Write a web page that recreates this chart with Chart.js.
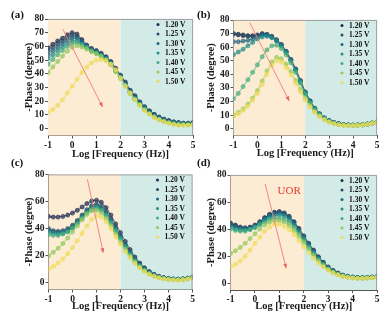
<!DOCTYPE html>
<html><head><meta charset="utf-8">
<script src="https://cdn.jsdelivr.net/npm/chart.js@4.4.1/dist/chart.umd.min.js"></script>
<style>
html,body{margin:0;padding:0;background:#fff;}
#wrap{position:relative;width:389px;height:321px;overflow:hidden;background:#fff;}
canvas{position:absolute;left:0;top:0;}
.lbl{position:absolute;font:bold 11px "Liberation Serif","Times New Roman",serif;color:#111;line-height:11px;}
</style></head><body>
<div id="wrap">
<canvas id="ca" width="389" height="321"></canvas>
<canvas id="cb" width="389" height="321"></canvas>
<canvas id="cc" width="389" height="321"></canvas>
<canvas id="cd" width="389" height="321"></canvas>
<div class="lbl" style="left:11px;top:9px">(a)</div>
<div class="lbl" style="left:197px;top:9px">(b)</div>
<div class="lbl" style="left:11px;top:157px">(c)</div>
<div class="lbl" style="left:197px;top:157px">(d)</div>
</div>
<script>
// ---------- data ----------
const logFreq = [-1,-0.8,-0.6,-0.4,-0.2,0,0.2,0.4,0.6,0.8,1,1.2,1.4,1.6,1.8,2,2.2,2.4,2.6,2.8,3,3.2,3.4,3.6,3.8,4,4.2,4.4,4.6,4.8,5];
const voltages = ['1.20 V','1.25 V','1.30 V','1.35 V','1.40 V','1.45 V','1.50 V'];
const xTicks = [-1,0,1,2,3,4,5];
const yTicks = [0,10,20,30,40,50,60,70,80];
const shadeEdges = [-1, 2, 5];

// (a)
const phaseA120 = [59,61.5,64,66,68.5,70,69,65,61,58.5,57,55,52.5,49,44,39,34,28,24,19.5,16,13,10.5,8.5,7,6,5,4.5,4,4,4.5];
const phaseA125 = [57,59.5,62,64,66.5,68,67.5,64,60.5,58,56.5,54.5,52,48.5,43.5,38.5,33,27.5,23,19,15.5,12.5,10,8,6.5,5.5,4.7,4.2,3.8,3.8,4.3];
const phaseA130 = [54,57,59.5,62,64.5,66,66,63,60,57.5,56,54,51.5,48,43,38,32.5,27,22.5,18.5,15,12,9.5,7.6,6.2,5.2,4.5,4,3.6,3.6,4];
const phaseA135 = [51,54,57,59.5,62,64,64,62,59.5,57,55.5,53.5,51,47.5,42.5,37.5,32,26.5,22,18,14.5,11.5,9,7.2,5.8,4.8,4.1,3.6,3.3,3.3,3.7];
const phaseA140 = [47,50.5,54,57,60,62,62.5,61,59,56.5,55,53,50.5,47,42,37,31.5,26,21.5,17.5,14,11,8.6,6.8,5.4,4.4,3.7,3.2,3,3,3.4];
const phaseA145 = [41,45,49,53,56.5,59.5,60.5,59.5,58,56,54.5,52.5,50,46.5,41.5,36.5,31,25.5,21,17,13.5,10.7,8.3,6.5,5.1,4.1,3.4,2.9,2.7,2.7,3.1];
const phaseA150 = [12,14,17,21,26,31,36,41,45,48,50,50.5,49.5,47,43,37,31,26,21,17,13,10.5,8,6.5,5,4,3,2.5,2.5,2.5,3];
// (b)
const phaseB120 = [70,69.5,69,68.5,68.5,69,70,69.5,68,65.5,62,57,51,44,35.5,27,20.5,15,11,8,6,4.6,3.7,3.1,2.8,2.7,2.8,3,3.5,4.2,5];
const phaseB125 = [69.5,69,68.5,68,68,68.5,69.5,69,67.5,65,61.5,56.5,50.5,43.5,35,26.5,20,14.7,10.7,7.8,5.8,4.5,3.6,3,2.7,2.6,2.7,2.9,3.4,4.1,4.9];
const phaseB130 = [64,64,64.5,65,66,67.5,69,69,67.5,65,61.5,56.5,50.5,43.5,35,26.5,20,14.7,10.7,7.8,5.8,4.5,3.6,3,2.7,2.6,2.7,2.9,3.4,4.1,4.9];
const phaseB135 = [54.5,56.5,58.5,61,63.5,66,67.5,68,67,64.5,61,56,50,43,34.5,26,19.5,14.3,10.4,7.6,5.6,4.3,3.4,2.9,2.6,2.5,2.6,2.8,3.3,4,4.8];
const phaseB140 = [22,26,31,36,41.5,47,53,58,61,61.5,59,54.5,48.5,41.5,33.5,25.5,19,14,10.2,7.4,5.4,4,3.2,2.8,2.6,2.6,2.7,2.9,3.4,4.1,4.9];
const phaseB145 = [10,12,14.5,18,22.5,28,35,42.5,49,52.5,51.5,47.5,42,35.5,29,22.5,17,12.7,9.3,6.9,5,3.8,3,2.6,2.4,2.4,2.5,2.8,3.3,4,4.8];
const phaseB150 = [9,11,13.5,16.5,21,26,32.5,40,46.5,50,49,45,39.5,33.5,27,21,16,12,8.8,6.5,4.8,3.7,2.9,2.5,2.3,2.3,2.4,2.7,3.2,3.9,4.7];
// (c)
const phaseC120 = [49,48.5,48.5,49,50,51.5,53.5,56,58.5,60.5,61,59.5,55.5,50,43.5,37,30.5,24.5,19,14.5,11,8.3,6.3,4.8,3.8,3.2,2.8,2.7,2.9,3.4,4.2];
const phaseC125 = [40,38.5,38,38.5,40,42.5,46,50,54,57,58,56.5,52.5,47,41,34.5,28,22.5,17.5,13.5,10.2,7.7,5.8,4.5,3.6,3,2.7,2.6,2.8,3.3,4.1];
const phaseC130 = [39,37.5,37,37.5,39,41.5,45,49,53,56,57,55.5,51.5,46,40,33.5,27.5,22,17,13,9.9,7.5,5.6,4.3,3.5,2.9,2.6,2.5,2.7,3.2,4];
const phaseC135 = [37.5,36.5,36,36.5,38,40.5,44,48,52,55,56,54.5,50.5,45,39,33,27,21.5,16.5,12.7,9.6,7.2,5.4,4.2,3.4,2.8,2.5,2.4,2.6,3.1,3.9];
const phaseC140 = [35.5,35,35,36,37.5,40,43.5,47.5,51.5,54,55,53.5,49.5,44,38,32,26,20.5,16,12.2,9.2,6.9,5.2,4,3.2,2.7,2.4,2.3,2.5,3,3.8];
const phaseC145 = [20,22.5,25.5,29,33,37.5,42,46.5,50.5,53,53.5,51.5,47.5,42,36,30,24.5,19.5,15,11.5,8.7,6.5,4.9,3.8,3,2.5,2.2,2.1,2.3,2.8,3.6];
const phaseC150 = [10,12,14.5,17.5,21.5,26,31,36.5,42,47,49.5,48.5,45,40,34,28.5,23,18.5,14.2,10.8,8.2,6.1,4.6,3.5,2.8,2.3,2,1.9,2.1,2.6,3.4];
// (d)
const phaseD120 = [44.5,43,41.5,41,41.5,43,45.5,48.5,51,52.5,53,52,49.5,45.5,40.5,35,29.5,24.5,19.5,15.5,12,9.5,7.5,6,5.2,4.6,4.3,4.2,4.3,4.6,5];
const phaseD125 = [44,42.5,41,40.5,41,42.5,45,48,50.5,52,52.5,51.5,49,45,40,34.5,29,24,19,15,11.7,9.2,7.3,5.9,5.1,4.5,4.2,4.1,4.2,4.5,4.9];
const phaseD130 = [43,41.5,40.5,40,40.5,42,44.5,47.5,50,51.5,52,51,48.5,44.5,39.5,34,28.5,23.5,18.7,14.7,11.4,9,7.1,5.8,5,4.4,4.1,4,4.1,4.4,4.8];
const phaseD135 = [41.5,40,39.5,39.5,40,41.5,44,46.5,48.5,50,50.5,49.5,47,43,38.5,33,27.5,22.5,18,14.2,11,8.7,6.9,5.6,4.8,4.3,4,3.9,4,4.3,4.7];
const phaseD140 = [40,39,38.5,38.5,39.5,41,43,45,47,48,48,47,44.5,41,36.5,31.5,26.5,21.5,17.2,13.5,10.5,8.3,6.6,5.4,4.6,4.1,3.8,3.8,3.9,4.2,4.6];
const phaseD145 = [22,24,26.5,29.5,33,36.5,40,43,45,46,46,45,42.5,39,34.5,30,25,20.5,16.5,13,10.2,8,6.4,5.2,4.5,4,3.7,3.7,3.8,4.1,4.5];
const phaseD150 = [12,14,16.5,20,24.5,29.5,34,38.5,41.5,43.5,43.5,42,39.5,36,31.5,27,22.5,18.5,15,12,9.5,7.5,6,5,4.3,3.8,3.6,3.6,3.7,4,4.4];

// arrows [x0, y0, x1, y1] in data units
const arrowA = [-0.38, 72.5, 1.26, 15.8];
const arrowB = [-0.32, 78, 1.33, 20.4];
const arrowC = [0.62, 76.5, 1.28, 22.2];
const arrowD = [0.42, 73.4, 1.28, 11];
const noteD = {text: 'UOR', x: 1.4, y: 68};

// ---------- styles ----------
const seriesColors = ['#1d2c4f','#2b4a68','#22657e','#1f8d8a','#45ad7e','#93c95c','#eedc5a'];
const SERIF = '"Liberation Serif","Times New Roman",serif';

function hexA(h, a){
  const r=parseInt(h.slice(1,3),16), g=parseInt(h.slice(3,5),16), b=parseInt(h.slice(5,7),16);
  return `rgba(${r},${g},${b},${a})`;
}

const shadePlugin = {
  id:'shade',
  beforeDatasetsDraw(chart){
    const {ctx, chartArea:a, scales:{x}} = chart;
    const cols = ['#fdecd4','#d3ebe7'];
    ctx.save();
    for (let i=0;i<shadeEdges.length-1;i++){
      const x0 = x.getPixelForValue(shadeEdges[i]), x1 = x.getPixelForValue(shadeEdges[i+1]);
      ctx.fillStyle = cols[i];
      ctx.fillRect(x0, a.top, x1-x0, a.bottom-a.top);
    }
    ctx.restore();
  }
};

const overlayPlugin = {
  id:'overlay',
  afterDatasetsDraw(chart, args, opts){
    const {ctx, chartArea:a, scales:{x,y}} = chart;
    ctx.save();
    const ar = opts.arrow;
    if (ar){
      const x0=x.getPixelForValue(ar[0]), y0=y.getPixelForValue(ar[1]);
      const x1=x.getPixelForValue(ar[2]), y1=y.getPixelForValue(ar[3]);
      ctx.strokeStyle='#ef7d78'; ctx.fillStyle='#ea5d58'; ctx.lineWidth=0.9;
      ctx.beginPath(); ctx.moveTo(x0,y0); ctx.lineTo(x1,y1); ctx.stroke();
      const ang=Math.atan2(y1-y0,x1-x0), L=4.5, W=1.9;
      ctx.beginPath();
      ctx.moveTo(x1,y1);
      ctx.lineTo(x1-L*Math.cos(ang)+W*Math.sin(ang), y1-L*Math.sin(ang)-W*Math.cos(ang));
      ctx.lineTo(x1-L*Math.cos(ang)-W*Math.sin(ang), y1-L*Math.sin(ang)+W*Math.cos(ang));
      ctx.closePath(); ctx.fill();
    }
    if (opts.note){
      ctx.fillStyle='#e23b33';
      ctx.font='11px '+SERIF;
      ctx.textAlign='center'; ctx.textBaseline='middle';
      ctx.fillText(opts.note.text, x.getPixelForValue(opts.note.x), y.getPixelForValue(opts.note.y));
    }
    ctx.font='bold 7.5px '+SERIF;
    ctx.textAlign='left'; ctx.textBaseline='middle';
    chart.data.datasets.forEach((ds,i)=>{
      const lx = a.right - 35, ly = a.top + 5.5 + i*9.5;
      ctx.beginPath(); ctx.arc(lx, ly, 1.5, 0, Math.PI*2);
      ctx.fillStyle = seriesColors[i]; ctx.fill();
      ctx.fillStyle='#111';
      ctx.fillText(ds.label, lx+7, ly+0.5);
    });
    ctx.restore();
  },
  afterDraw(chart){
    const {ctx, chartArea:a} = chart;
    ctx.save();
    ctx.strokeStyle='#8a8a8a'; ctx.lineWidth=0.8;
    ctx.beginPath();
    ctx.moveTo(a.left, a.top+0.4); ctx.lineTo(a.right-0.4, a.top+0.4); ctx.lineTo(a.right-0.4, a.bottom);
    ctx.stroke();
    ctx.restore();
  }
};

const panels = [
  {id:'ca', series:[phaseA120,phaseA125,phaseA130,phaseA135,phaseA140,phaseA145,phaseA150], arrow:arrowA, note:null,
   box:{L:48, R:193, T:19, B:135.5, tx:29, ty:154}},
  {id:'cb', series:[phaseB120,phaseB125,phaseB130,phaseB135,phaseB140,phaseB145,phaseB150], arrow:arrowB, note:null,
   box:{L:233.5, R:377, T:20, B:135.5, tx:211.5, ty:153.5}},
  {id:'cc', series:[phaseC120,phaseC125,phaseC130,phaseC135,phaseC140,phaseC145,phaseC150], arrow:arrowC, note:null,
   box:{L:48.5, R:192.5, T:174.5, B:289.5, tx:29, ty:306}},
  {id:'cd', series:[phaseD120,phaseD125,phaseD130,phaseD135,phaseD140,phaseD145,phaseD150], arrow:arrowD, note:noteD,
   box:{L:230.5, R:377, T:175, B:290, tx:211.5, ty:306.5}}
];

panels.forEach(p=>{
  const b = p.box;
  const titleLH = 12;
  const padLeft = b.tx - titleLH/2;
  const scaleBottom = b.ty + titleLH/2;
  const datasets = p.series.map((vals,i)=>({
    label: voltages[i],
    data: logFreq.map((f,k)=>({x:f, y:vals[k]})),
    showLine:true,
    borderWidth:1.2,
    borderColor: hexA(seriesColors[i],0.55),
    backgroundColor: hexA(seriesColors[i],0.6),
    pointRadius:2,
    pointBorderWidth:0.7,
    pointBackgroundColor: hexA(seriesColors[i],0.6),
    pointBorderColor: seriesColors[i],
    order: voltages.length - 1 - i
  }));
  const axisCommon = {
    grid:{display:true, drawOnChartArea:false, drawTicks:true, tickLength:3, tickColor:'#555', color:'#555'},
    border:{display:true, color:'#555', width:1},
  };
  new Chart(document.getElementById(p.id), {
    type:'scatter',
    data:{datasets},
    options:{
      responsive:false, animation:false, devicePixelRatio:1,
      layout:{padding:{left:padLeft, top:b.T, right:389-b.R, bottom:321-scaleBottom}},
      plugins:{legend:{display:false}, tooltip:{enabled:false}, overlay:{arrow:p.arrow, note:p.note}},
      scales:{
        x:{type:'linear', min:-1, max:5, ...axisCommon,
           afterBuildTicks:s=>{s.ticks = xTicks.map(v=>({value:v}));},
           afterFit:s=>{s.height = scaleBottom - b.B;},
           ticks:{color:'#1a1a1a', padding:1, maxRotation:0, font:{family:SERIF, size:9.5, weight:'bold'}},
           title:{display:true, text:'Log [Frequency (Hz)]', color:'#1a1a1a', padding:0,
                  font:{family:SERIF, size:10.5, weight:'bold', lineHeight:titleLH/10.5}}},
        y:{type:'linear', min:-5, max:80, ...axisCommon,
           afterBuildTicks:s=>{s.ticks = yTicks.map(v=>({value:v}));},
           afterFit:s=>{s.width = b.L - padLeft;},
           ticks:{color:'#1a1a1a', padding:1, font:{family:SERIF, size:9.5, weight:'bold'}},
           title:{display:true, text:'-Phase (degree)', color:'#1a1a1a', padding:0,
                  font:{family:SERIF, size:10.5, weight:'bold', lineHeight:titleLH/10.5}}}
      }
    },
    plugins:[shadePlugin, overlayPlugin]
  });
});
</script>
</body></html>
